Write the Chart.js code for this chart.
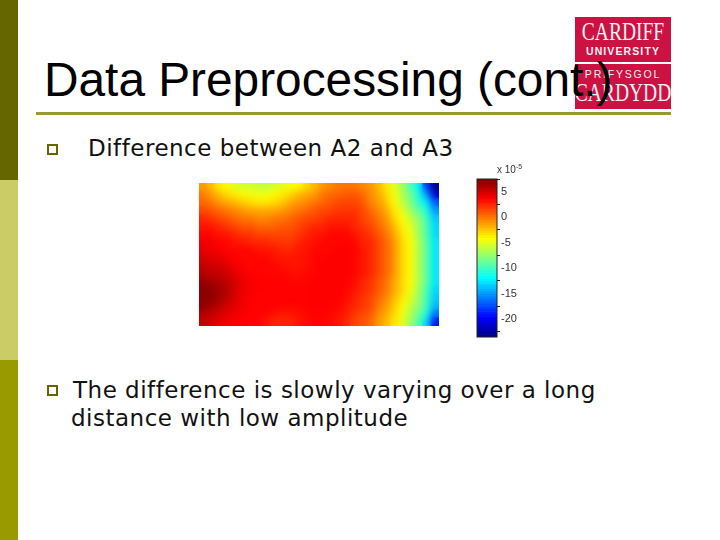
<!DOCTYPE html>
<html>
<head>
<meta charset="utf-8">
<script src="https://cdn.jsdelivr.net/npm/chart.js@4"></script>
<style>
  html, body { margin: 0; padding: 0; background: #fff; }
  #slide { position: relative; width: 720px; height: 540px; overflow: hidden; background: #fff; }
  #slide div, #slide canvas { position: absolute; }
  .band { left: 0; width: 18px; height: 180px; }
  .logoBlock { left: 575px; width: 96px; background: #cc1243; }
  .logoText { left: 523px; width: 200px; text-align: center; color: #fdf0f2; white-space: nowrap; }
  .serif { font-family: "Liberation Serif", serif; font-size: 25px; line-height: 20px; transform: scaleX(0.78); }
  .sans { font-family: "Liberation Sans", sans-serif; font-weight: bold; font-size: 10.5px; line-height: 10px; letter-spacing: 1.1px; }
  #title { left: 44px; top: 58px; font: 47.8px/44px "Liberation Sans", sans-serif; color: #000; white-space: nowrap; }
  #rule { left: 36px; top: 112px; width: 635px; height: 3px; background: #999933; }
  .bullet { left: 47px; width: 7px; height: 7px; border: 2.5px solid #666600; }
  .body { font: 23px/28px "DejaVu Sans", sans-serif; letter-spacing: 0.5px; color: #111; white-space: nowrap; }
  #scaleNote { left: 497px; top: 164px; font: 10px/12px "Liberation Sans", sans-serif; color: #333; white-space: nowrap; }
  #scaleNote sup { font-size: 7px; line-height: 0; }
</style>
</head>
<body>
<div id="slide">
  <div class="band" style="top:0;background:#666600"></div>
  <div class="band" style="top:180px;background:#cccc66"></div>
  <div class="band" style="top:360px;background:#999900"></div>

  <div class="logoBlock" style="top:17px;height:45px"></div>
  <div class="logoBlock" style="top:64px;height:45px"></div>
  <div class="logoText serif" style="top:22px">CARDIFF</div>
  <div class="logoText sans" style="top:46px">UNIVERSITY</div>
  <div class="logoText sans" style="top:69px;letter-spacing:1.8px;font-weight:normal">PRIFYSGOL</div>
  <div class="logoText serif" style="top:83px">CARDYDD</div>

  <div id="title">Data Preprocessing (cont.)</div>
  <div id="rule"></div>

  <div class="bullet" style="top:144px"></div>
  <div class="body" style="left:88px;top:134px">Difference between A2 and A3</div>

  <canvas id="heatChart" style="left:199px;top:183px"></canvas>
  <canvas id="barChart" style="left:470px;top:170px"></canvas>
  <div id="scaleNote">x 10<sup>-5</sup></div>

  <div class="bullet" style="top:385px"></div>
  <div class="body" style="left:73px;top:376px">The difference is slowly varying over a long</div>
  <div class="body" style="left:71px;top:404px">distance with low amplitude</div>
</div>

<script>
// values, top row first (unit 1e-5)
const heatRows = [
  [-1,-2,-3.5,-4,-5,-5.5,-5.5,-6,-6,-5.5,-5,-4.5,-4,-3,-2,-1,-0.5,0,0,0,-0.5,-1,-2,-3.5,-5,-7,-9.5,-12,-18,-23],
  [0,-1,-2,-3,-3.5,-4,-4.5,-4.5,-4.5,-4,-3.5,-3,-2,-1.5,-1,0,0.5,0.5,1,1,0.5,-0.5,-1.5,-3,-4.5,-6.5,-8.5,-11,-15,-21],
  [0.5,0,-1,-1.5,-2,-2.5,-3,-3.5,-3.5,-3,-2.5,-1.5,-1,-0.5,0,0.5,1,1.5,1.5,1.5,1,-0.5,-1,-2.5,-4,-6,-8,-10.5,-12.5,-17],
  [1.5,1,0.5,0,-0.5,-1,-1.5,-1.5,-1.5,-1.5,-1,-0.5,0,0.5,1,1.5,1.5,2,2,2,1.5,0.5,-0.5,-1.5,-3.5,-5,-7,-9,-11,-15],
  [2.5,2,1.5,1,0.5,0,0,-0.5,-0.5,0,0,0.5,1,1.5,1.5,2,2.5,2.5,2.5,2.5,1.5,1,0,-1,-3,-4.2,-6,-7.5,-10,-13.5],
  [3,3,2.5,2,1.5,1,1,0.5,0.5,0.5,1,1,1.5,2,2.5,2.5,3,3,3,2.5,2,1.5,0.5,-0.5,-2,-3.8,-5,-7,-9.5,-13],
  [3.5,3.5,3,3,2.5,2,2,1.5,1.5,1.5,1.5,1.5,2,2.5,3,3,3.5,3.5,3.5,3,2.5,2,1,0,-1.5,-3.5,-4.5,-7,-9.5,-13],
  [4,4,3.5,3.5,3,3,2.5,2.5,2.5,2,2,2,2.5,3,3,3.5,3.5,3.5,3.5,3.5,2.5,2.5,1.5,0.5,-1,-3,-4.2,-6.5,-9,-12.5],
  [4.5,4,4,3.5,3.5,3.5,3.5,3,3,3,2.5,2.5,3,3,3.5,3.5,3.5,3.7,3.7,3.5,3,2.5,1.5,0.5,-1,-3,-4,-6.5,-9,-12.5],
  [5,4.5,4.5,4,3.7,3.5,3.5,3.5,3.5,3,3,3,3,3.2,3.5,3.5,3.7,3.7,3.7,3.5,3,2.5,1.5,0.5,-1,-3,-4,-6.5,-9,-12.5],
  [5.5,5,5,4.5,4,3.7,3.5,3.5,3.5,3.5,3.2,3,3,3.2,3.5,3.7,3.7,3.7,3.7,3.5,3,2.5,1.5,0.5,-1,-3,-4,-6.5,-9,-12.5],
  [6,5.5,5.5,5,4.5,4,3.7,3.5,3.5,3.5,3.5,3.3,3.2,3.5,3.5,3.7,3.7,3.7,3.7,3.5,3,2.5,1.5,0.5,-1,-3,-4,-6.5,-9,-12.5],
  [6.8,6.4,6,5.5,5,4.2,3.8,3.7,3.6,3.6,3.6,3.5,3.5,3.5,3.6,3.7,3.7,3.7,3.6,3.3,2.5,2,1,0,-1.5,-3,-4.2,-6.5,-9,-12.5],
  [7.2,7,6.5,5.8,5,4.2,3.8,3.7,3.6,3.6,3.6,3.6,3.6,3.6,3.7,3.7,3.7,3.6,3.5,3,2.5,2,1,0,-1.5,-3,-4.5,-7,-9.5,-13],
  [7.2,7,6.5,5.8,4.8,4,3.7,3.6,3.6,3.6,3.6,3.6,3.6,3.6,3.7,3.7,3.7,3.6,3.3,2.7,2,1.5,0.5,-0.5,-2,-3.5,-5,-7,-10,-13.5],
  [7,6.5,5.8,5,4.5,4,3.7,3.6,3.6,3.6,3.5,3.5,3.5,3.6,3.7,3.7,3.6,3.5,3,2.5,2,1.5,0,-1,-2.5,-4,-6,-7.5,-10,-14],
  [6,5.5,5,4.5,4.2,3.8,3.6,3.6,3.5,3.2,3,3,3.2,3.5,3.6,3.6,3.5,3.2,2.8,2,1.5,1,-0.5,-1.5,-3,-4.5,-6.5,-8.5,-11,-16],
  [5.5,5,4.5,4,3.8,3.6,3.5,3.5,3,2.5,2.5,2.5,3,3.3,3.5,3.5,3.3,3,2.5,1.5,1,0.5,-1,-2,-3.5,-5,-7,-9.5,-13,-19],
];

const colorbarLevels = [
  -23.25,-22.75,-22.25,-21.75,-21.25,-20.75,-20.25,-19.75,-19.25,-18.75,-18.25,-17.75,-17.25,-16.75,-16.25,-15.75,
  -15.25,-14.75,-14.25,-13.75,-13.25,-12.75,-12.25,-11.75,-11.25,-10.75,-10.25,-9.75,-9.25,-8.75,-8.25,-7.75,
  -7.25,-6.75,-6.25,-5.75,-5.25,-4.75,-4.25,-3.75,-3.25,-2.75,-2.25,-1.75,-1.25,-0.75,-0.25,0.25,
  0.75,1.25,1.75,2.25,2.75,3.25,3.75,4.25,4.75,5.25,5.75,6.25,6.75,7.25,
];
const colorbarTicks = [-20, -15, -10, -5, 0, 5];
const colorMin = -23.5;
const colorMax = 7.5;

// MATLAB style jet colormap
function jet(v) {
  const t = (v - colorMin) / (colorMax - colorMin);
  const ch = (c) => Math.round(255 * Math.max(0, Math.min(1, 1.5 - Math.abs(4 * t - c))));
  return "rgb(" + ch(3) + "," + ch(2) + "," + ch(1) + ")";
}

const heatPoints = [];
heatRows.forEach((row, r) => {
  row.forEach((v, c) => heatPoints.push({ x: c, y: r, v: v }));
});

// softens the cells so they read like the contour shading of the original
const smoothCells = {
  id: "smoothCells",
  afterDatasetsDraw(chart) {
    const { left, top, width, height } = chart.chartArea;
    const dpr = chart.currentDevicePixelRatio;
    const tmp = document.createElement("canvas");
    tmp.width = width * dpr;
    tmp.height = height * dpr;
    tmp.getContext("2d").drawImage(chart.canvas, left * dpr, top * dpr, tmp.width, tmp.height, 0, 0, tmp.width, tmp.height);
    const ctx = chart.ctx;
    ctx.save();
    ctx.beginPath();
    ctx.rect(left, top, width, height);
    ctx.clip();
    ctx.filter = "blur(3.5px)";
    ctx.drawImage(tmp, left, top, width, height);
    ctx.restore();
  },
};

const frameBar = {
  id: "frameBar",
  afterDatasetsDraw(chart) {
    const { left, top, width, height } = chart.chartArea;
    const ctx = chart.ctx;
    ctx.save();
    ctx.strokeStyle = "#222";
    ctx.lineWidth = 1;
    ctx.strokeRect(left, top, width, height);
    ctx.restore();
  },
};

const heatCanvas = document.getElementById("heatChart");
heatCanvas.width = 240;
heatCanvas.height = 143;
new Chart(heatCanvas, {
  type: "scatter",
  plugins: [smoothCells],
  data: {
    datasets: [
      {
        data: heatPoints,
        pointStyle: "rect",
        pointRadius: 6.5,
        borderWidth: 0,
        backgroundColor: (c) => jet(c.raw.v),
      },
    ],
  },
  options: {
    responsive: false,
    animation: false,
    layout: { padding: 0, autoPadding: false },
    plugins: { legend: { display: false }, tooltip: { enabled: false } },
    scales: {
      x: { display: false, min: -0.5, max: 29.5 },
      y: { display: false, min: -0.5, max: 17.5, reverse: true },
    },
  },
});

const barCanvas = document.getElementById("barChart");
barCanvas.width = 60;
barCanvas.height = 175;
new Chart(barCanvas, {
  type: "bar",
  plugins: [frameBar],
  data: {
    datasets: [
      {
        data: colorbarLevels.map((v) => ({ y: v, x: 1 })),
        backgroundColor: colorbarLevels.map(jet),
        barPercentage: 1,
        categoryPercentage: 1,
        borderWidth: 0,
      },
    ],
  },
  options: {
    indexAxis: "y",
    responsive: false,
    animation: false,
    layout: { padding: { left: 7, right: 5, top: 9, bottom: 8 }, autoPadding: false },
    plugins: { legend: { display: false }, tooltip: { enabled: false } },
    scales: {
      x: { display: false, min: 0, max: 1 },
      y: {
        type: "linear",
        position: "right",
        offset: false,
        min: colorMin,
        max: colorMax,
        afterBuildTicks: (scale) => {
          scale.ticks = colorbarTicks.map((value) => ({ value }));
        },
        afterFit: (scale) => {
          scale.width = 28;
        },
        grid: { drawOnChartArea: false, tickLength: 3, tickColor: "#222" },
        border: { display: false },
        ticks: {
          padding: 1,
          color: "#333",
          font: { family: "Liberation Sans", size: 11 },
        },
      },
    },
  },
});
</script>
</body>
</html>
